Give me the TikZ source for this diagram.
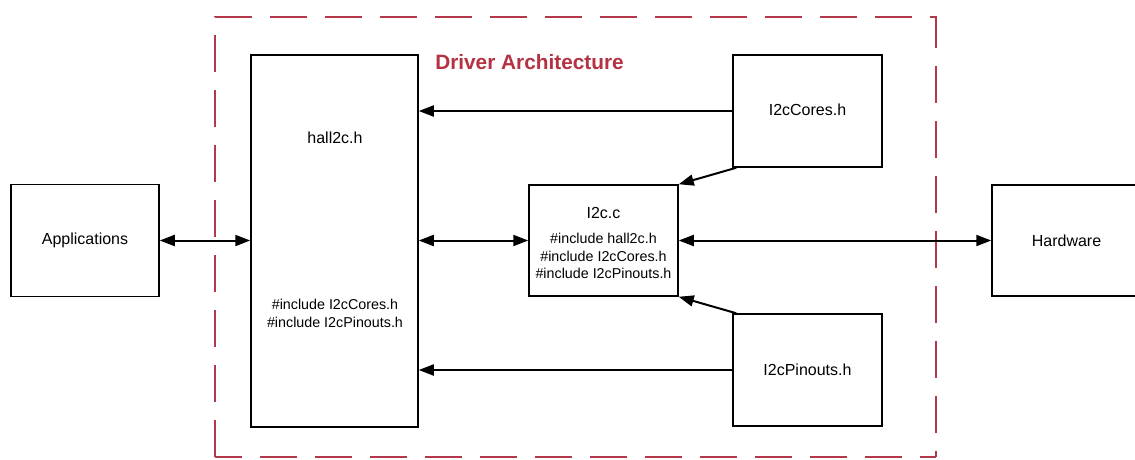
\documentclass[tikz,border=0pt]{standalone}
\usepackage{fontspec}
\setmainfont{Liberation Sans}
\usetikzlibrary{arrows.meta}
\definecolor{frameRed}{RGB}{178,56,74}
\definecolor{titleRed}{RGB}{180,50,66}
\tikzset{
  box/.style={draw=black, line width=1.5pt, fill=white, inner sep=0pt, rectangle},
  lbl/.style={font=\fontsize{16}{19}\selectfont, inner sep=0pt},
  inc/.style={font=\fontsize{14.3}{17.5}\selectfont, inner sep=0pt, align=center},
  conn/.style={line width=2pt, -{Triangle[length=15pt,width=11pt]}},
  conn2/.style={line width=2pt, {Triangle[length=15pt,width=11pt]}-{Triangle[length=15pt,width=11pt]}},
  frame/.style={draw=frameRed, line width=1.8pt, dash pattern=on 37pt off 18pt}
}
\begin{document}
\begin{tikzpicture}[x=1pt,y=-1pt]
\useasboundingbox (0,0) rectangle (1135,459);
\clip (0,0) rectangle (1135,459);
\fill[white] (0,0) rectangle (1135,459);
% dashed frame
\draw[frame] (215,457) -- (215,17) -- (936,17) -- (936,457);
\draw[frame, dash phase=10pt] (215,457) -- (936,457);
\node[font=\bfseries\fontsize{20.8}{24}\selectfont, text=titleRed, inner sep=0pt] (title) at (529.5,62) {Driver Architecture};
% boxes
\node[box, minimum width=148pt, minimum height=112pt] (apps) at (85,240.5) {};
\node[lbl] (appst) at (85,240.5) {Applications};
\node[box, minimum width=167pt, minimum height=372pt] (hall) at (334.5,241) {};
\node[lbl] (hallt) at (335,138) {hall2c.h};
\node[inc] (hallinc) at (335,313.5) {\#include I2cCores.h\\\#include I2cPinouts.h};
\node[box, minimum width=149pt, minimum height=111pt] (i2c) at (603.5,240.5) {};
\node[lbl] (i2ct) at (603.5,213) {I2c.c};
\node[inc] (i2cinc) at (603.5,256) {\#include hall2c.h\\\#include I2cCores.h\\\#include I2cPinouts.h};
\node[box, minimum width=149pt, minimum height=112pt] (cores) at (807.5,111) {};
\node[lbl] (corest) at (807.5,110) {I2cCores.h};
\node[box, minimum width=149pt, minimum height=112pt] (pins) at (807.5,370) {};
\node[lbl] (pinst) at (807.5,370) {I2cPinouts.h};
\node[box, minimum width=149pt, minimum height=111pt] (hw) at (1066.5,240.5) {};
\node[lbl] (hwt) at (1066.5,240.5) {Hardware};
% connectors
\draw[conn2] (apps.east) -- (apps.east -| hall.west);
\draw[conn2] (hall.east |- i2c.west) -- (i2c.west);
\draw[conn2] (i2c.east) -- (hw.west);
\draw[conn] (cores.west) -- (cores.west -| hall.east);
\draw[conn] (pins.west) -- (pins.west -| hall.east);
\draw[conn] ([xshift=4pt]cores.south west) -- (i2c.north east);
\draw[conn] ([xshift=4pt]pins.north west) -- (i2c.south east);
\end{tikzpicture}
\end{document}
